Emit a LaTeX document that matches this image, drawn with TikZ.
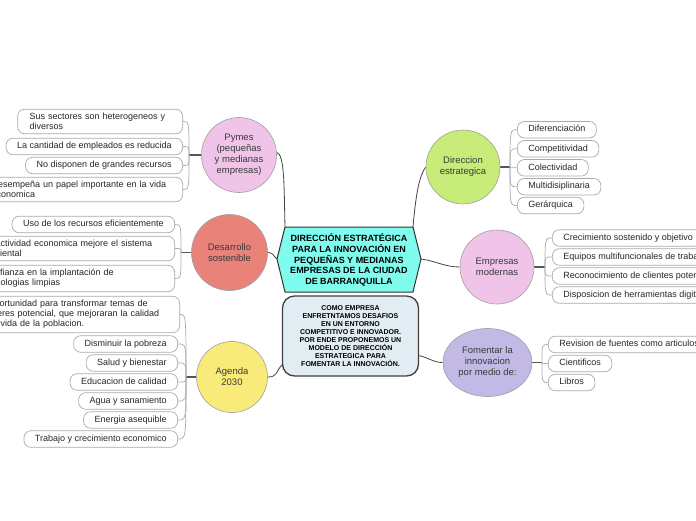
\documentclass[tikz,border=0pt]{standalone}
\usepackage{fontspec}
\setmainfont{Liberation Sans}
\usetikzlibrary{shapes.geometric,backgrounds}
\definecolor{pinkc}{HTML}{F0C4E8}
\definecolor{salmonc}{HTML}{E9837A}
\definecolor{yellowc}{HTML}{F8EB7A}
\definecolor{limec}{HTML}{C8EC7A}
\definecolor{lavc}{HTML}{C3B9E6}
\definecolor{cyanc}{HTML}{80FCEE}
\definecolor{callc}{HTML}{E1ECF3}
\definecolor{leafline}{HTML}{AAAAAA}
\definecolor{trunkc}{HTML}{555555}
\definecolor{txtc}{HTML}{3A3A3A}
\definecolor{connc}{HTML}{444444}
\begin{document}
\begin{tikzpicture}[x=1pt,y=1pt,
  topic/.style={circle, draw=gray!75, line width=0.6pt, inner sep=0pt, align=center,
    text=txtc, font=\fontsize{9.5}{11}\selectfont},
  baseleaf/.style={draw=leafline, line width=0.7pt, rounded corners=7pt, fill=white,
    font=\fontsize{9}{10}\selectfont, text=black!85},
  leaf/.style={baseleaf, inner xsep=11pt, inner ysep=4pt, text height=6.5pt, text depth=2pt},
  mleaf/.style={baseleaf, align=left, inner xsep=12pt, inner ysep=4pt},
  trunk/.style={draw=trunkc, line width=1.8pt},
  twig/.style={draw=leafline, line width=0.7pt},
  conn/.style={draw=connc, line width=0.8pt}]
\useasboundingbox (0,0) rectangle (696,-520);
\clip (0,0) rectangle (696,-520);

% central hexagon
\coordinate (hexTL) at (285,-227);
\coordinate (hexTR) at (413,-227);
\coordinate (hexR) at (421,-259);
\coordinate (hexBR) at (413,-292);
\coordinate (hexBL) at (285,-292);
\coordinate (hexL) at (277,-259);
\draw[fill=cyanc, draw=black!80, line width=1pt, line join=round]
  (hexTL) -- (hexTR) -- (hexR) -- (hexBR) -- (hexBL) -- (hexL) -- cycle;
\node[align=center, font=\bfseries\fontsize{9}{10.6}\selectfont] (hex) at (349,-260)
  {DIRECCIÓN ESTRATÉGICA\\PARA LA INNOVACIÓN EN\\PEQUEÑAS Y MEDIANAS\\EMPRESAS DE LA CIUDAD\\DE BARRANQUILLA};

% callout
\node[draw=black!75, line width=1.3pt, fill=callc, rounded corners=12pt, minimum width=136pt,
  minimum height=80pt, align=center, inner sep=0pt, font=\bfseries\fontsize{7}{8.1}\selectfont] (call) at (350.5,-336)
  {COMO EMPRESA\\ENFRETNTAMOS DESAFIOS\\EN UN ENTORNO\\COMPETITIVO E INNOVADOR.\\POR ENDE PROPONEMOS UN\\MODELO DE DIRECCIÓN\\ESTRATEGICA PARA\\FOMENTAR LA INNOVACIÓN.};

% topics
\node[topic, fill=pinkc, minimum size=75pt] (pymes) at (239,-155) {Pymes\\(pequeñas\\y medianas\\empresas)};
\node[topic, fill=salmonc, minimum size=76pt] (desa) at (229.5,-252.5) {Desarrollo\\sostenible};
\node[topic, fill=yellowc, minimum size=71pt] (agenda) at (232,-377) {Agenda\\2030};
\node[topic, fill=limec, minimum size=74pt] (direc) at (463,-167) {Direccion\\estrategica};
\node[topic, fill=pinkc, minimum size=74pt] (empre) at (497,-267) {Empresas\\modernas};
\node[topic, ellipse, fill=lavc, minimum width=89pt, minimum height=68pt] (foment) at (487.5,-362.5) {Fomentar la\\innovacion\\por medio de:};

% Pymes leaves
\node[mleaf, text width=141pt, anchor=east] (p1) at (183,-121.5) {Sus sectores son heterogeneos y\\diversos};
\node[leaf, anchor=east] (p2) at (183,-146.5) {La cantidad de empleados es reducida};
\node[leaf, anchor=east] (p3) at (183,-165.5) {No disponen de grandes recursos};
\node[mleaf, text width=179pt, anchor=east] (p4) at (183,-189.5) {Desempeña un papel importante en la vida\\economica};

% Desarrollo leaves
\node[leaf, anchor=east] (d1) at (175,-224.5) {Uso de los recursos eficientemente};
\node[mleaf, text width=180pt, anchor=east] (d2) at (175,-248.5) {La actividad economica mejore el sistema\\ambiental};
\node[mleaf, text width=179pt, anchor=east] (d3) at (175,-278.5) {Confianza en la implantación de\\tecnologias limpias};

% Agenda leaves
\node[mleaf, text width=180pt, anchor=east] (a0) at (180,-314.5) {Oportunidad para transformar temas de\\interes potencial, que mejoraran la calidad\\de vida de la poblacion.};
\node[leaf, anchor=east] (a1) at (178,-344) {Disminuir la pobreza};
\node[leaf, anchor=east] (a2) at (178,-363) {Salud y bienestar};
\node[leaf, anchor=east] (a3) at (178,-382) {Educacion de calidad};
\node[leaf, anchor=east] (a4) at (178,-401) {Agua y sanamiento};
\node[leaf, anchor=east] (a5) at (178,-420) {Energia asequible};
\node[leaf, anchor=east] (a6) at (178,-439) {Trabajo y crecimiento economico};

% Direccion leaves
\node[leaf, anchor=west] (r1) at (517,-129.7) {Diferenciación};
\node[leaf, anchor=west] (r2) at (517,-148.8) {Competitividad};
\node[leaf, anchor=west] (r3) at (517,-167.8) {Colectividad};
\node[leaf, anchor=west] (r4) at (517,-186.7) {Multidisiplinaria};
\node[leaf, anchor=west] (r5) at (517,-205.5) {Gerárquica};

% Empresas leaves
\node[leaf, anchor=west] (e1) at (552,-238) {Crecimiento sostenido y objetivo};
\node[leaf, anchor=west] (e2) at (552,-257) {Equipos multifuncionales de trabajo};
\node[leaf, anchor=west] (e3) at (552,-276) {Reconocimiento de clientes potenciales};
\node[leaf, anchor=west] (e4) at (552,-295) {Disposicion de herramientas digitales};

% Fomentar leaves
\node[leaf, anchor=west] (f1) at (548,-344.5) {Revision de fuentes como articulos};
\node[leaf, anchor=west] (f2) at (548,-363.5) {Cientificos};
\node[leaf, anchor=west] (f3) at (548,-382.5) {Libros};

% junctions
\coordinate (pj) at (189,-155);
\coordinate (dj) at (181,-252.5);
\coordinate (aj) at (186,-377);
\coordinate (rj) at (510,-167);
\coordinate (ej) at (545,-267);
\coordinate (fj) at (542,-362.5);

\begin{pgfonlayer}{background}
  \fill[white] (0,0) rectangle (696,-520);
  % central connectors
  \draw[conn] (pymes.4) .. controls +(8,-2) and +(-1,40) .. (hexTL);
  \draw[conn] (desa.east) .. controls +(6,0) and +(-4,3) .. (hexL);
  \draw[conn] (agenda.east) .. controls +(10,0) and +(-6,-6) .. (call.203);
  \draw[conn] (hexTR) .. controls +(3,35) and +(-6,-8) .. (direc.west);
  \draw[conn] (hexR) .. controls +(15,-2) and +(-15,0) .. (empre.west);
  \draw[conn] (call.-16) .. controls +(10,-2) and +(-10,0) .. (foment.west);
  % trunks
  \draw[trunk] (pymes.west) -- (pj);
  \draw[trunk] (desa.west) -- (dj);
  \draw[trunk] (agenda.west) -- (aj);
  \draw[trunk] (direc.east) -- (rj);
  \draw[trunk] (empre.east) -- (ej);
  \draw[trunk] (foment.east) -- (fj);
  % twigs
  \foreach \n in {p1,p2,p3,p4} {\draw[twig] (pj) .. controls (pj |- \n.east) .. (\n.east);}
  \foreach \n in {d1,d2,d3} {\draw[twig] (dj) .. controls (dj |- \n.east) .. (\n.east);}
  \foreach \n in {a0,a1,a2,a3,a4,a5,a6} {\draw[twig] (aj) .. controls (aj |- \n.east) .. (\n.east);}
  \foreach \n in {r1,r2,r3,r4,r5} {\draw[twig] (rj) .. controls (rj |- \n.west) .. (\n.west);}
  \foreach \n in {e1,e2,e3,e4} {\draw[twig] (ej) .. controls (ej |- \n.west) .. (\n.west);}
  \foreach \n in {f1,f2,f3} {\draw[twig] (fj) .. controls (fj |- \n.west) .. (\n.west);}
\end{pgfonlayer}
\end{tikzpicture}
\end{document}
